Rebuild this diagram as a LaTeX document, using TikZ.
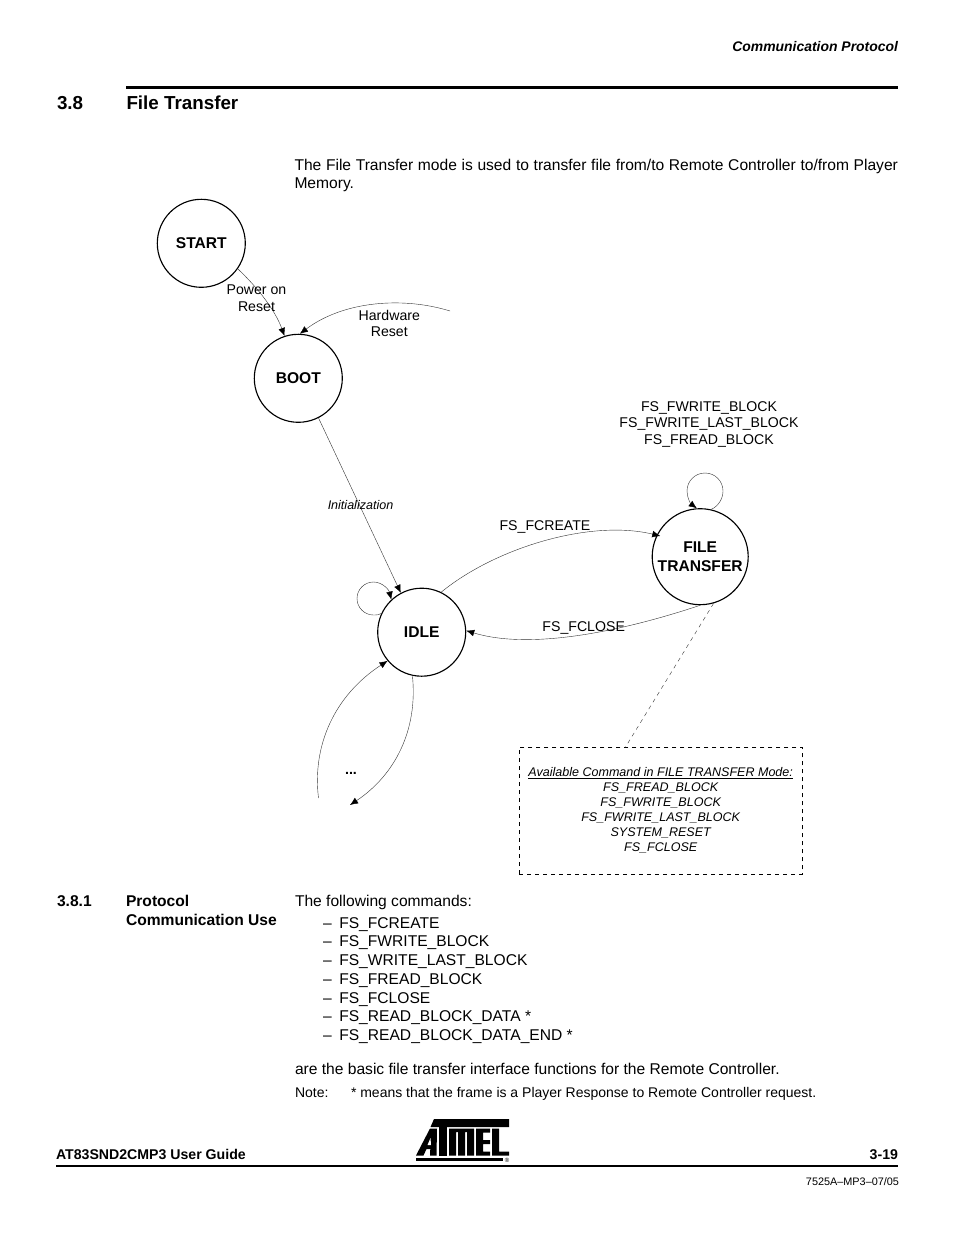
\documentclass[tikz,border=0pt]{standalone}
\usepackage{fontspec}
\setmainfont{Liberation Sans}
\usetikzlibrary{arrows.meta}
\tikzset{
 px/.style={x=0.75pt,y=-0.75pt},
 lbl/.style={inner sep=0pt,outer sep=0pt,anchor=base west,font=\fontsize{11.7}{14}\selectfont},
 lblr/.style={inner sep=0pt,outer sep=0pt,anchor=base east},
 ctr/.style={inner sep=0pt,outer sep=0pt,anchor=base,font=\fontsize{10.6}{12}\selectfont},
 cml/.style={inner sep=0pt,outer sep=0pt,anchor=base,font=\fontsize{9.4}{11}\selectfont\itshape},
 state/.style={circle,draw=black,line width=0.85pt,inner sep=0pt,align=center,font=\fontsize{11.7}{14}\selectfont\bfseries},
 conn/.style={draw=black!80,line width=0.3pt},
 arr/.style={conn,-{Latex[length=6pt,width=5pt,black]}},
 rulebar/.style={draw=black},
 logo/.style={fill=black,draw=none},
}
\begin{document}
\begin{tikzpicture}[px]
\useasboundingbox (0,0) rectangle (954,1235);
\fill[white] (0,0) rectangle (954,1235);
% header
\node[lblr,font=\fontsize{10.45}{12}\selectfont\bfseries\itshape] (hdr) at (898,51) {Communication Protocol};
\coordinate (r1a) at (126,87.5); \coordinate (r1b) at (898,87.5);
\draw[rulebar,line width=2.2pt] (r1a) -- (r1b);
\node[lbl,font=\fontsize{14.1}{16}\selectfont\bfseries] (secn) at (57,109) {3.8};
\node[lbl,font=\fontsize{14.1}{16}\selectfont\bfseries] (sect) at (126.5,109) {File Transfer};
\node[inner sep=0pt,outer sep=0pt,anchor=north west,text width=452.6pt,align=justify,font=\fontsize{11.7}{13.9}\selectfont] (intro) at (294.5,159) {The File Transfer mode is used to transfer file from/to Remote Controller to/from Player Memory.};
% states
\node[state,minimum size=66pt] (start) at (201.3,243.3) {START};
\node[state,minimum size=66pt] (boot) at (298.3,378.3) {BOOT};
\node[state,minimum size=66pt] (idle) at (421.7,632.2) {IDLE};
\node[state,minimum size=72pt] (ft) at (700.2,556.7) {FILE\\TRANSFER};
% free ends
\coordinate (hwfree) at (450,311);
\coordinate (ll) at (318.5,798);
\coordinate (lr) at (350,805);
% connectors
\draw[arr] (start.-35) .. controls (258,288) and (275,310) .. (boot.108);
\draw[arr] (hwfree) .. controls (405,297) and (345,300) .. (boot.88);
\draw[arr] (boot.-63) -- (idle.118);
\draw[arr] (idle.64) .. controls (495,548) and (590,519) .. ([xshift=2.5pt,yshift=-1pt]ft.153);
\draw[arr] (ft.-90) .. controls (620,632) and (530,650) .. (idle.2);
\draw[arr] (ll) .. controls (312,745) and (335,695) .. (idle.-140);
\draw[arr] (idle.-102) .. controls (418,730) and (395,775) .. (lr);
\draw[arr] (idle.155) .. controls (380,614.7) and (377,615) .. (373.5,615) .. controls (364.4,615) and (357,607.6) .. (357,598.5) .. controls (357,589.4) and (364.4,582) .. (373.5,582) .. controls (382.6,582) and (389,590) .. (idle.133);
\draw[arr] (ft.77) .. controls (718,506.5) and (723,499) .. (723,491) .. controls (723,481) and (715,473) .. (705,473) .. controls (695,473) and (687,481) .. (687,491) .. controls (687,498) and (691,504) .. (ft.94);
% dashed link and box
\node[draw=black,dashed,line width=0.5pt,inner sep=0pt,minimum width=212.25pt,minimum height=95.25pt,anchor=north west] (cmdbox) at (519,747) {};
\coordinate (cmdtop) at (625.5,747);
\draw[conn,dashed] (ft.-74) -- (cmdtop);
% edge labels
\node[ctr] (l1a) at (256.5,294) {Power on};
\node[ctr] (l1b) at (256.5,311) {Reset};
\node[ctr] (l2a) at (389.3,320) {Hardware};
\node[ctr] (l2b) at (389.3,336) {Reset};
\node[cml] (l3) at (360.5,509) {Initialization};
\node[ctr] (l4) at (545,530) {FS\_FCREATE};
\node[ctr] (l5) at (583.7,631) {FS\_FCLOSE};
\node[ctr] (l6a) at (709,411) {FS\_FWRITE\_BLOCK};
\node[ctr] (l6b) at (709,427) {FS\_FWRITE\_LAST\_BLOCK};
\node[ctr] (l6c) at (709,444) {FS\_FREAD\_BLOCK};
\node[ctr,font=\fontsize{10.7}{12}\selectfont\bfseries] (dots) at (351,774) {...};
% box text
\node[cml] (b0) at (660.7,776) {\underline{Available Command in FILE TRANSFER Mode:}};
\node[cml] (b1) at (660.7,791) {FS\_FREAD\_BLOCK};
\node[cml] (b2) at (660.7,806) {FS\_FWRITE\_BLOCK};
\node[cml] (b3) at (660.7,821) {FS\_FWRITE\_LAST\_BLOCK};
\node[cml] (b4) at (660.7,836) {SYSTEM\_RESET};
\node[cml] (b5) at (660.7,851) {FS\_FCLOSE};
% subsection
\node[lbl,font=\fontsize{11.7}{12}\selectfont\bfseries] (ssn) at (57,906) {3.8.1};
\node[lbl,font=\fontsize{11.7}{14}\selectfont\bfseries] (ss1) at (126,906) {Protocol};
\node[lbl,font=\fontsize{11.7}{14}\selectfont\bfseries] (ss2) at (126,925) {Communication Use};
\node[lbl] (p1) at (295,906) {The following commands:};
\node[lbl] (d1) at (323,928) {–}; \node[lbl] (i1) at (339.3,928) {FS\_FCREATE};
\node[lbl] (d2) at (323,946) {–}; \node[lbl] (i2) at (339.3,946) {FS\_FWRITE\_BLOCK};
\node[lbl] (d3) at (323,965) {–}; \node[lbl] (i3) at (339.3,965) {FS\_WRITE\_LAST\_BLOCK};
\node[lbl] (d4) at (323,984) {–}; \node[lbl] (i4) at (339.3,984) {FS\_FREAD\_BLOCK};
\node[lbl] (d5) at (323,1003) {–}; \node[lbl] (i5) at (339.3,1003) {FS\_FCLOSE};
\node[lbl] (d6) at (323,1021) {–}; \node[lbl] (i6) at (339.3,1021) {FS\_READ\_BLOCK\_DATA *};
\node[lbl] (d7) at (323,1040) {–}; \node[lbl] (i7) at (339.3,1040) {FS\_READ\_BLOCK\_DATA\_END *};
\node[lbl] (p2) at (295,1074) {are the basic file transfer interface functions for the Remote Controller.};
\node[lbl,font=\fontsize{10.5}{12}\selectfont] (n1) at (295,1097) {Note:};
\node[lbl,font=\fontsize{10.5}{12}\selectfont] (n2) at (351,1097) {* means that the frame is a Player Response to Remote Controller request.};
% footer
\node[lbl,font=\fontsize{10.6}{12}\selectfont\bfseries] (ft1) at (56,1159) {AT83SND2CMP3 User Guide};
\node[lblr,font=\fontsize{10.6}{12}\selectfont\bfseries] (ft2) at (898,1159) {3-19};
\coordinate (r2a) at (56,1165.5); \coordinate (r2b) at (898,1165.5);
\draw[rulebar,line width=1.5pt] (r2a) -- (r2b);
\node[lblr,font=\fontsize{8.15}{10}\selectfont] (ft3) at (899,1185) {7525A–MP3–07/05};
% logo
\fill[logo] (434,1119) -- (509,1119) -- (509,1127) -- (430.5,1127) -- cycle;
\fill[logo] (416,1157.5) -- (503,1157.5) -- (503,1161) -- (416,1161) -- cycle;
\fill[logo] (430,1128.5) -- (437,1128.5) -- (436.5,1155.5) -- (430,1155.5) -- (430.3,1149) -- (426.5,1149) -- (423.5,1155.5) -- (416,1155.5) -- cycle;
\fill[white] (430.5,1138) -- (431,1145) -- (427.5,1145) -- cycle;
\fill[logo] (439,1127) -- (447,1127) -- (447,1155.5) -- (439,1155.5) -- cycle;
\fill[logo] (449,1128.5) -- (474,1128.5) -- (474,1155.5) -- (467,1155.5) -- (467,1132) -- (465,1132) -- (465,1155.5) -- (458,1155.5) -- (458,1132) -- (456,1132) -- (456,1155.5) -- (449,1155.5) -- cycle;
\fill[logo] (476,1128.5) -- (490,1128.5) -- (490,1132.5) -- (483,1132.5) -- (483,1140) -- (490,1140) -- (490,1144) -- (483,1144) -- (483,1151.5) -- (490,1151.5) -- (490,1155.5) -- (476,1155.5) -- cycle;
\fill[logo] (492,1128.5) -- (499,1128.5) -- (499,1151.5) -- (509,1151.5) -- (509,1155.5) -- (492,1155.5) -- cycle;
\node[inner sep=0pt,font=\fontsize{4.5}{5}\selectfont] (reg) at (507,1160.5) {®};
\end{tikzpicture}
\end{document}
